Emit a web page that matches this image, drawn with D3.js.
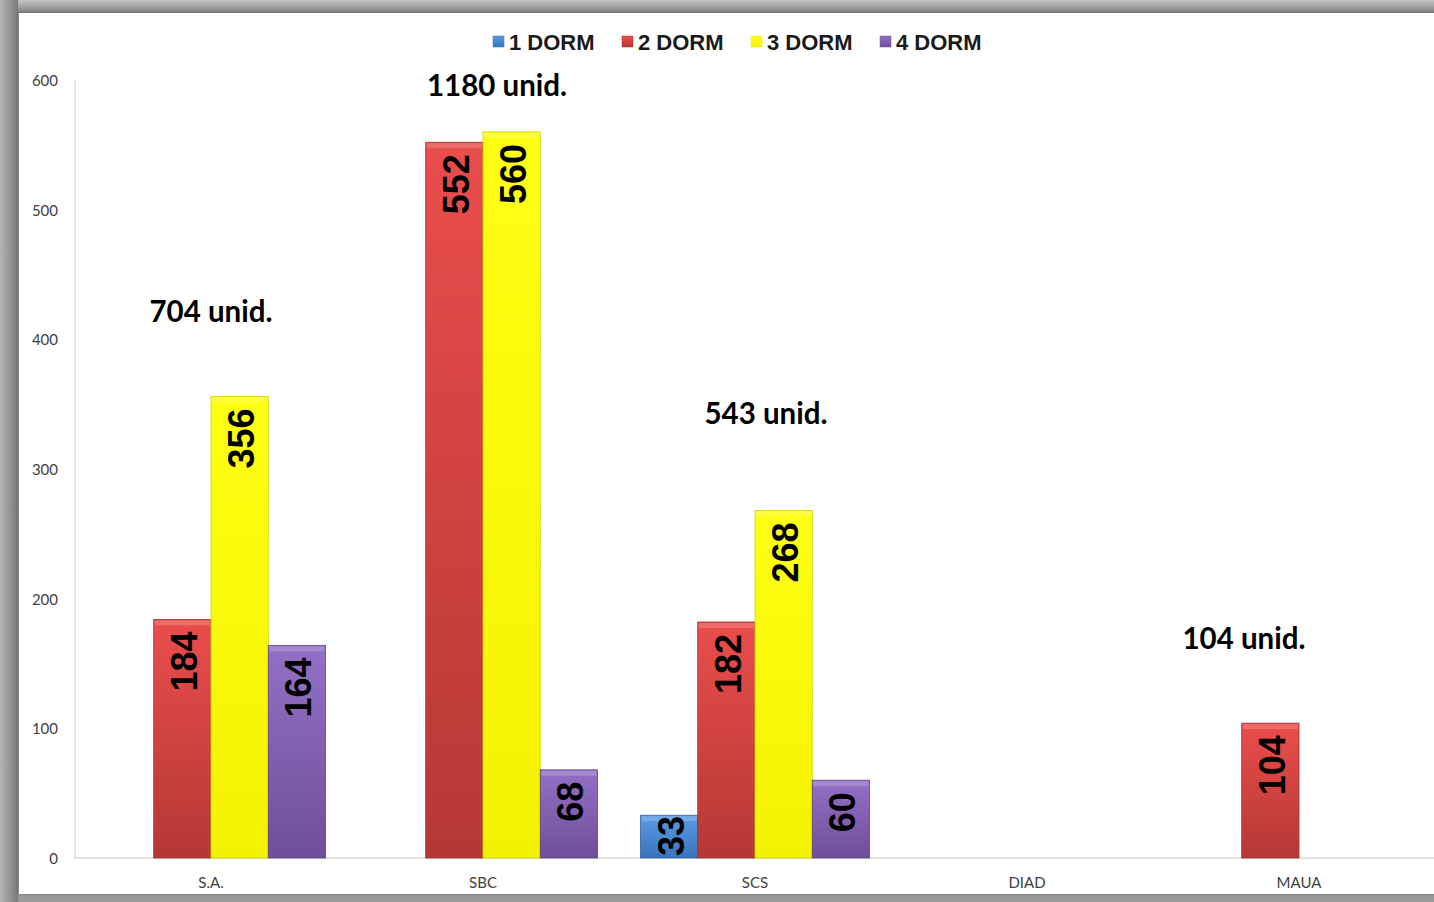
<!DOCTYPE html>
<html>
<head>
<meta charset="utf-8">
<script src="https://cdn.jsdelivr.net/npm/d3@7"></script>
<style>
  body { margin: 0; background: #fff; }
  svg { display: block; }
</style>
</head>
<body>
<script>
const categories = ['S.A.', 'SBC', 'SCS', 'DIAD', 'MAUA'];
const series = ['1 DORM', '2 DORM', '3 DORM', '4 DORM'];
const dorm1 = [0, 0, 33, 0, 0];
const dorm2 = [184, 552, 182, 0, 104];
const dorm3 = [356, 560, 268, 0, 0];
const dorm4 = [164, 68, 60, 0, 0];
const yTicks = [0, 100, 200, 300, 400, 500, 600];
const totalLabels = ['704 unid.', '1180 unid.', '543 unid.', '', '104 unid.'];

const colors = {
  '1 DORM': ['#5b9be6', '#3a72bd'],
  '2 DORM': ['#ea4d4b', '#b53835'],
  '3 DORM': ['#ffff14', '#f2f200'],
  '4 DORM': ['#9270c6', '#6f4f98']
};

const W = 1434, H = 902;
const svg = d3.select('body').append('svg').attr('width', W).attr('height', H);
const defs = svg.append('defs');

// frame
const fg = defs.append('linearGradient').attr('id', 'frameL').attr('x1', 0).attr('x2', 1).attr('y1', 0).attr('y2', 0);
fg.append('stop').attr('offset', '0%').attr('stop-color', '#b4b4b4');
fg.append('stop').attr('offset', '100%').attr('stop-color', '#7a7a7a');
const ft = defs.append('linearGradient').attr('id', 'frameT').attr('x1', 0).attr('x2', 0).attr('y1', 0).attr('y2', 1);
ft.append('stop').attr('offset', '0%').attr('stop-color', '#c4c4c4');
ft.append('stop').attr('offset', '100%').attr('stop-color', '#808080');
svg.append('rect').attr('width', W).attr('height', H).attr('fill', '#9a9a9a');
svg.append('rect').attr('width', W).attr('height', 13).attr('fill', 'url(#frameT)');
svg.append('rect').attr('width', 18).attr('height', H).attr('fill', 'url(#frameL)');
const sh = defs.append('filter').attr('id', 'sh').attr('x', -0.05).attr('y', -0.05).attr('width', 1.1).attr('height', 1.1);
sh.append('feDropShadow').attr('dx', 0).attr('dy', 0).attr('stdDeviation', 2).attr('flood-color', '#555').attr('flood-opacity', 0.6);
svg.append('rect').attr('x', 19).attr('y', 13).attr('width', W).attr('height', 881)
  .attr('fill', '#fff').attr('filter', 'url(#sh)');

// gradients for bars
series.forEach((s, i) => {
  const g = defs.append('linearGradient').attr('id', 'g' + i).attr('x1', 0).attr('x2', 0).attr('y1', 0).attr('y2', 1);
  g.append('stop').attr('offset', '0%').attr('stop-color', colors[s][0]);
  g.append('stop').attr('offset', '100%').attr('stop-color', colors[s][1]);
});

const rows = categories.map((c, i) => ({
  cat: c,
  vals: [dorm1[i], dorm2[i], dorm3[i], dorm4[i]],
  total: dorm1[i] + dorm2[i] + dorm3[i] + dorm4[i],
  label: totalLabels[i]
}));

const x0 = d3.scaleBand().domain(categories).range([75, 1435]);
const x1 = d3.scaleBand().domain(series).range([0, x0.bandwidth()]).paddingOuter(0.375);
const y = d3.scaleLinear().domain([0, 600]).range([858, 80]);

// axes
svg.append('line').attr('x1', 75).attr('x2', 75).attr('y1', y(600)).attr('y2', y(0)).attr('stroke', '#d9d9d9').attr('stroke-width', 1.5);
svg.append('line').attr('x1', 75).attr('x2', W).attr('y1', y(0)).attr('y2', y(0)).attr('stroke', '#d9d9d9').attr('stroke-width', 1.5);

svg.selectAll('.ytick').data(yTicks).enter().append('text')
  .attr('class', 'ytick')
  .attr('x', 58).attr('y', d => y(d))
  .attr('text-anchor', 'end').attr('dominant-baseline', 'central')
  .attr('font-family', 'Lato, sans-serif').attr('font-size', 15).attr('fill', '#404040')
  .text(d => d);

svg.selectAll('.xlab').data(categories).enter().append('text')
  .attr('class', 'xlab')
  .attr('x', d => x0(d) + x0.bandwidth() / 2).attr('y', 882)
  .attr('text-anchor', 'middle').attr('dominant-baseline', 'central')
  .attr('font-family', 'Lato, sans-serif').attr('font-size', 15).attr('fill', '#404040')
  .text(d => d);

// bars
const groups = svg.selectAll('.grp').data(rows).enter().append('g')
  .attr('class', 'grp').attr('transform', d => `translate(${x0(d.cat)},0)`);

const bars = groups.selectAll('.bar')
  .data(d => d.vals.map((v, i) => ({ s: series[i], i, v })).filter(e => e.v > 0))
  .enter().append('g').attr('class', 'bar');

bars.append('rect')
  .attr('x', d => x1(d.s)).attr('width', x1.bandwidth())
  .attr('y', d => y(d.v)).attr('height', d => y(0) - y(d.v))
  .attr('fill', d => `url(#g${d.i})`)
  .attr('stroke', d => d3.color(colors[d.s][1]).darker(0.4)).attr('stroke-width', 0.8);
// top bevel highlight
bars.append('rect')
  .attr('x', d => x1(d.s) + 1).attr('width', x1.bandwidth() - 2)
  .attr('y', d => y(d.v) + 1).attr('height', 5)
  .attr('fill', '#fff').attr('opacity', 0.18);

bars.append('text')
  .attr('text-anchor', 'end').attr('dominant-baseline', 'central')
  .attr('font-family', 'Liberation Sans, Arial, sans-serif').attr('font-weight', 'bold')
  .attr('font-size', 36).attr('fill', '#000')
  .text(d => d.v)
  .attr('transform', function (d) {
    const len = this.getComputedTextLength();
    const top = Math.min(y(d.v) + 12, y(0) - 2 - len);
    return `translate(${x1(d.s) + x1.bandwidth() / 2 + 2},${top}) rotate(-90)`;
  });

// total annotations
const totalPos = [[211, 413], [497, 588], [766, 335], [0, 0], [1244, 161]];
svg.selectAll('.tot').data(rows).enter().filter(d => d.label).append('text')
  .attr('class', 'tot')
  .attr('x', d => totalPos[categories.indexOf(d.cat)][0])
  .attr('y', d => y(totalPos[categories.indexOf(d.cat)][1]))
  .attr('text-anchor', 'middle')
  .attr('font-family', 'Lato, sans-serif').attr('font-weight', 'bold')
  .attr('font-size', 29.5).attr('fill', '#000')
  .text(d => d.label);

// legend
const leg = svg.append('g').attr('transform', 'translate(493,41)');
const li = leg.selectAll('.li').data(series).enter().append('g')
  .attr('transform', (d, i) => `translate(${i * 129},0)`);
li.append('rect').attr('x', 0).attr('y', -5).attr('width', 11).attr('height', 11)
  .attr('fill', (d, i) => `url(#g${i})`).attr('stroke', d => colors[d][1]).attr('stroke-width', 0.5);
li.append('text').attr('x', 16).attr('y', 1).attr('dominant-baseline', 'central')
  .attr('font-family', 'Liberation Sans, Arial, sans-serif').attr('font-weight', 'bold')
  .attr('font-size', 22).attr('fill', '#1a1a1a')
  .text(d => d);
</script>
</body>
</html>
